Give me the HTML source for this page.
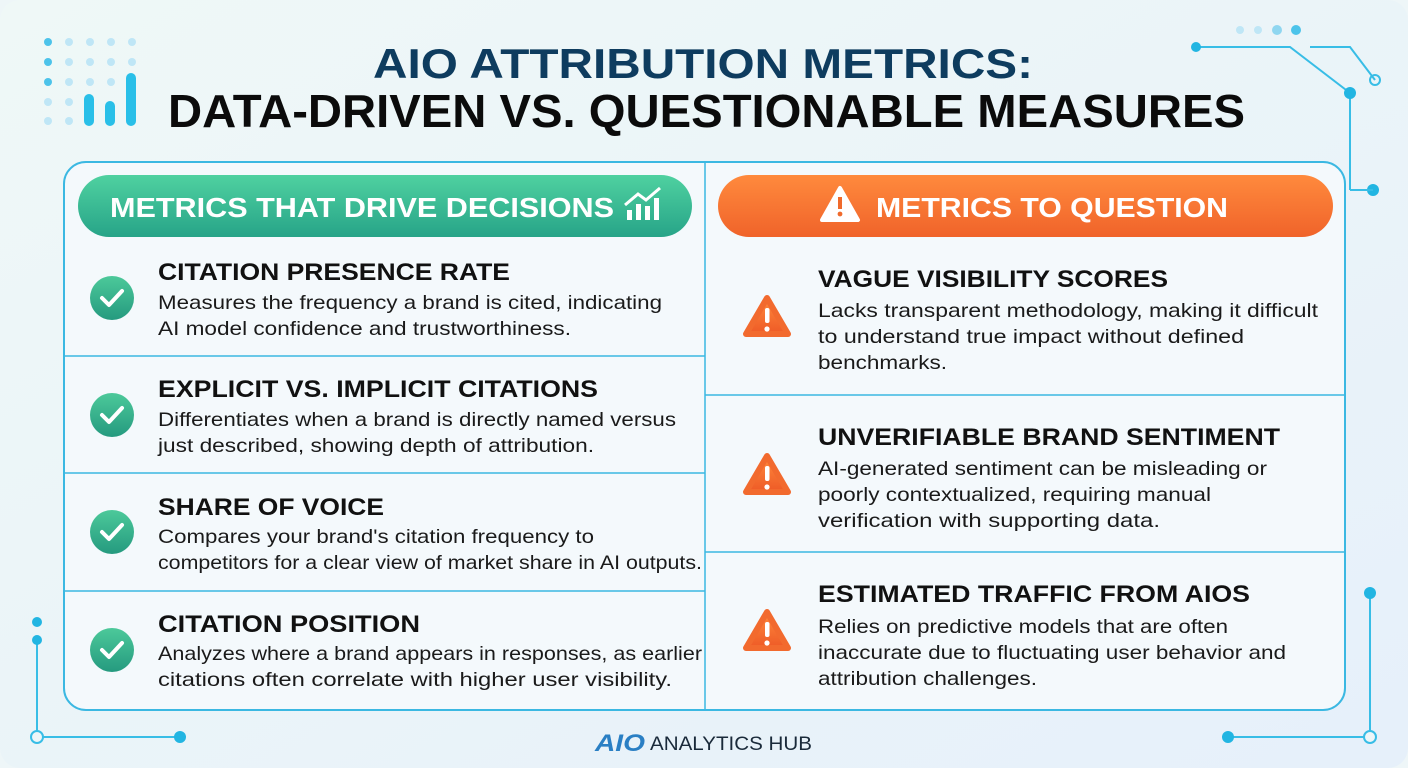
<!DOCTYPE html>
<html><head><meta charset="utf-8"><style>html,body{margin:0;padding:0;width:1408px;height:768px;overflow:hidden;background:#eef6f8}</style></head><body>
<svg width="1408" height="768" viewBox="0 0 1408 768" xmlns="http://www.w3.org/2000/svg" font-family="Liberation Sans, sans-serif">
<defs>
<linearGradient id="bg" x1="0" y1="0" x2="1" y2="1"><stop offset="0" stop-color="#eff8f7"/><stop offset="1" stop-color="#e6f0fa"/></linearGradient>
<linearGradient id="gr" x1="0" y1="0" x2="0" y2="1"><stop offset="0" stop-color="#4fd1a0"/><stop offset="1" stop-color="#27a488"/></linearGradient>
<linearGradient id="or" x1="0" y1="0" x2="0" y2="1"><stop offset="0" stop-color="#ff8a3d"/><stop offset="1" stop-color="#f0632a"/></linearGradient>
<linearGradient id="ck" x1="0" y1="0" x2="0" y2="1"><stop offset="0" stop-color="#4cc99a"/><stop offset="1" stop-color="#259a7f"/></linearGradient>
<linearGradient id="wt" x1="0" y1="0" x2="0" y2="1"><stop offset="0" stop-color="#ff8a3d"/><stop offset="1" stop-color="#ee5a26"/></linearGradient>
</defs>
<rect width="1408" height="768" rx="20" fill="url(#bg)"/>
<!-- decorations top-left -->
<g fill="#bfe6f6">
<circle cx="48" cy="42" r="4" fill="#4cc3ea"/><circle cx="69" cy="42" r="4"/><circle cx="90" cy="42" r="4"/><circle cx="111" cy="42" r="4"/><circle cx="132" cy="42" r="4"/>
<circle cx="48" cy="62" r="4" fill="#4cc3ea"/><circle cx="69" cy="62" r="4"/><circle cx="90" cy="62" r="4"/><circle cx="111" cy="62" r="4"/><circle cx="132" cy="62" r="4"/>
<circle cx="48" cy="82" r="4" fill="#4cc3ea"/><circle cx="69" cy="82" r="4"/><circle cx="90" cy="82" r="4"/><circle cx="111" cy="82" r="4"/>
<circle cx="48" cy="102" r="4"/><circle cx="69" cy="102" r="4"/><circle cx="48" cy="121" r="4"/><circle cx="69" cy="121" r="4"/>
</g>
<g fill="#29bfe8"><rect x="84" y="94" width="10" height="32" rx="5"/><rect x="105" y="101" width="10" height="25" rx="5"/><rect x="126" y="73" width="10" height="53" rx="5"/></g>
<!-- decorations top-right -->
<g fill="#bfe6f6"><circle cx="1240" cy="30" r="4"/><circle cx="1258" cy="30" r="4"/><circle cx="1277" cy="30" r="5" fill="#8fd6f0"/><circle cx="1296" cy="30" r="5" fill="#4cc3ea"/></g>
<g stroke="#38bde6" stroke-width="2" fill="none"><path d="M1196 47 H1290 L1350 93 V190"/><path d="M1310 47 H1350 L1375 80"/></g>
<g fill="#22b5e2"><circle cx="1196" cy="47" r="5"/><circle cx="1350" cy="93" r="6"/><circle cx="1373" cy="190" r="6"/><circle cx="1375" cy="80" r="5" fill="none" stroke="#38bde6" stroke-width="2"/></g>
<path d="M1350 190 H1373" stroke="#38bde6" stroke-width="2"/>
<!-- decorations bottom -->
<g stroke="#38bde6" stroke-width="2" fill="none"><path d="M37 640 V737 H180"/><path d="M1370 593 V737 H1228"/></g>
<g fill="#22b5e2"><circle cx="37" cy="622" r="5"/><circle cx="37" cy="640" r="5"/><circle cx="180" cy="737" r="6"/><circle cx="1228" cy="737" r="6"/><circle cx="1370" cy="593" r="6"/></g>
<circle cx="37" cy="737" r="6" fill="#eef6f8" stroke="#38bde6" stroke-width="2"/>
<circle cx="1370" cy="737" r="6" fill="#eef6f8" stroke="#38bde6" stroke-width="2"/>
<!-- title -->
<text x="373" y="78" font-size="42" font-weight="bold" fill="#0e3c5f" textLength="660" lengthAdjust="spacingAndGlyphs">AIO ATTRIBUTION METRICS:</text>
<text x="168" y="127" font-size="46" font-weight="bold" fill="#0b0b0b" textLength="1077" lengthAdjust="spacingAndGlyphs">DATA-DRIVEN VS. QUESTIONABLE MEASURES</text>
<!-- panel -->
<rect x="64" y="162" width="1281" height="548" rx="22" fill="#f4f9fc" stroke="#3bb8e2" stroke-width="2"/>
<line x1="705" y1="163" x2="705" y2="709" stroke="#3bb8e2" stroke-width="1.5"/>
<g stroke="#3bb8e2" stroke-width="1.5"><line x1="65" y1="356" x2="705" y2="356"/><line x1="65" y1="473" x2="705" y2="473"/><line x1="65" y1="591" x2="705" y2="591"/><line x1="705" y1="395" x2="1344" y2="395"/><line x1="705" y1="552" x2="1344" y2="552"/></g>
<!-- headers -->
<rect x="78" y="175" width="614" height="62" rx="31" fill="url(#gr)"/>
<rect x="718" y="175" width="615" height="62" rx="31" fill="url(#or)"/>
<text x="110" y="217" font-size="28" font-weight="bold" fill="#fff" textLength="504" lengthAdjust="spacingAndGlyphs">METRICS THAT DRIVE DECISIONS</text>
<g fill="#fff"><rect x="627" y="210" width="5" height="10"/><rect x="636" y="204" width="5" height="16"/><rect x="645" y="206" width="5" height="14"/><rect x="654" y="198" width="5" height="22"/></g>
<path d="M625 205 L638 194 L646 200 L660 188" stroke="#fff" stroke-width="3" fill="none"/>
<path d="M822 220 L840 188 L858 220 Z" fill="#fff" stroke="#fff" stroke-width="4" stroke-linejoin="round"/>
<rect x="838" y="197" width="4" height="12" fill="#f06a2c"/><circle cx="840" cy="214" r="2.4" fill="#f06a2c"/>
<text x="876" y="217" font-size="28" font-weight="bold" fill="#fff" textLength="352" lengthAdjust="spacingAndGlyphs">METRICS TO QUESTION</text>
<!-- checks -->
<g>
<circle cx="112" cy="298" r="22" fill="url(#ck)"/><circle cx="112" cy="415" r="22" fill="url(#ck)"/><circle cx="112" cy="532" r="22" fill="url(#ck)"/><circle cx="112" cy="650" r="22" fill="url(#ck)"/>
<g stroke="#fff" stroke-width="4" fill="none" stroke-linecap="round" stroke-linejoin="round">
<path d="M102 298 L109 305 L122 291"/><path d="M102 415 L109 422 L122 408"/><path d="M102 532 L109 539 L122 525"/><path d="M102 650 L109 657 L122 643"/></g>
</g>
<!-- warnings -->
<g fill="url(#wt)" stroke="#f26a2e" stroke-width="6" stroke-linejoin="round">
<path d="M767 298 L788 334 L746 334 Z"/><path d="M767 456 L788 492 L746 492 Z"/><path d="M767 612 L788 648 L746 648 Z"/></g>
<g fill="#fff"><rect x="765" y="308" width="4.5" height="15" rx="2"/><circle cx="767" cy="329" r="2.6"/><rect x="765" y="466" width="4.5" height="15" rx="2"/><circle cx="767" cy="487" r="2.6"/><rect x="765" y="622" width="4.5" height="15" rx="2"/><circle cx="767" cy="643" r="2.6"/></g>
<!-- left text -->
<g font-size="24" font-weight="bold" fill="#111">
<text x="158" y="280" textLength="352" lengthAdjust="spacingAndGlyphs">CITATION PRESENCE RATE</text>
<text x="158" y="397" textLength="440" lengthAdjust="spacingAndGlyphs">EXPLICIT VS. IMPLICIT CITATIONS</text>
<text x="158" y="515" textLength="226" lengthAdjust="spacingAndGlyphs">SHARE OF VOICE</text>
<text x="158" y="632" textLength="262" lengthAdjust="spacingAndGlyphs">CITATION POSITION</text>
<text x="818" y="287" textLength="350" lengthAdjust="spacingAndGlyphs">VAGUE VISIBILITY SCORES</text>
<text x="818" y="445" textLength="462" lengthAdjust="spacingAndGlyphs">UNVERIFIABLE BRAND SENTIMENT</text>
<text x="818" y="602" textLength="432" lengthAdjust="spacingAndGlyphs">ESTIMATED TRAFFIC FROM AIOS</text>
</g>
<g font-size="19.5" fill="#1a1a1a">
<text x="158" y="309" textLength="504" lengthAdjust="spacingAndGlyphs">Measures the frequency a brand is cited, indicating</text>
<text x="158" y="335" textLength="413" lengthAdjust="spacingAndGlyphs">AI model confidence and trustworthiness.</text>
<text x="158" y="426" textLength="518" lengthAdjust="spacingAndGlyphs">Differentiates when a brand is directly named versus</text>
<text x="158" y="452" textLength="436" lengthAdjust="spacingAndGlyphs">just described, showing depth of attribution.</text>
<text x="158" y="543" textLength="436" lengthAdjust="spacingAndGlyphs">Compares your brand's citation frequency to</text>
<text x="158" y="569" textLength="544" lengthAdjust="spacingAndGlyphs">competitors for a clear view of market share in AI outputs.</text>
<text x="158" y="660" textLength="544" lengthAdjust="spacingAndGlyphs">Analyzes where a brand appears in responses, as earlier</text>
<text x="158" y="686" textLength="514" lengthAdjust="spacingAndGlyphs">citations often correlate with higher user visibility.</text>
<text x="818" y="317" textLength="500" lengthAdjust="spacingAndGlyphs">Lacks transparent methodology, making it difficult</text>
<text x="818" y="343" textLength="426" lengthAdjust="spacingAndGlyphs">to understand true impact without defined</text>
<text x="818" y="369" textLength="129" lengthAdjust="spacingAndGlyphs">benchmarks.</text>
<text x="818" y="475" textLength="449" lengthAdjust="spacingAndGlyphs">AI-generated sentiment can be misleading or</text>
<text x="818" y="501" textLength="393" lengthAdjust="spacingAndGlyphs">poorly contextualized, requiring manual</text>
<text x="818" y="527" textLength="342" lengthAdjust="spacingAndGlyphs">verification with supporting data.</text>
<text x="818" y="633" textLength="410" lengthAdjust="spacingAndGlyphs">Relies on predictive models that are often</text>
<text x="818" y="659" textLength="468" lengthAdjust="spacingAndGlyphs">inaccurate due to fluctuating user behavior and</text>
<text x="818" y="685" textLength="219" lengthAdjust="spacingAndGlyphs">attribution challenges.</text>
</g>
<!-- footer -->
<text x="595" y="751" font-size="24" font-weight="bold" font-style="italic" fill="#2a7fc4" textLength="50" lengthAdjust="spacingAndGlyphs">AIO</text>
<text x="650" y="750" font-size="19" fill="#1a2a3a" textLength="162" lengthAdjust="spacingAndGlyphs">ANALYTICS HUB</text>
</svg>
</body></html>
